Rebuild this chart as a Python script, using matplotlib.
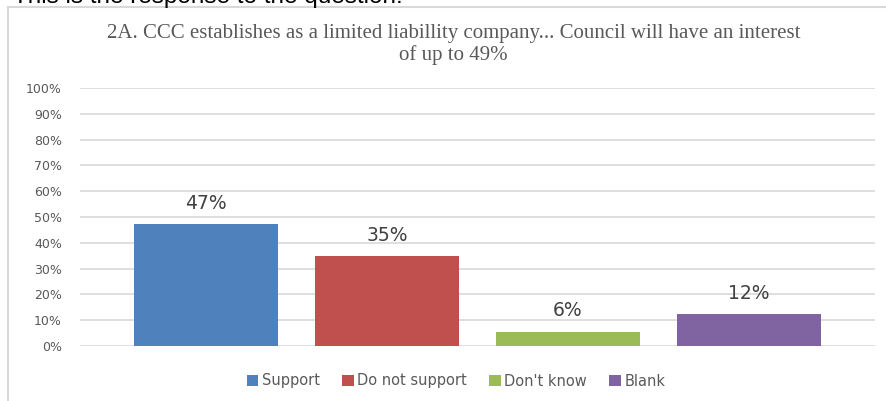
import matplotlib
matplotlib.use('Agg')
import matplotlib.pyplot as plt
from matplotlib.patches import Rectangle, Patch

categories = ['Support', 'Do not support', "Don't know", 'Blank']
shares = [0.472, 0.349, 0.056, 0.124]
colours = ['#4F81BD', '#C0504D', '#9BBB59', '#8064A2']
y_ticks = [0.0, 0.1, 0.2, 0.3, 0.4, 0.5, 0.6, 0.7, 0.8, 0.9, 1.0]
title = ('2A. CCC establishes as a limited liabillity company... Council will have an interest\n'
         'of up to 49%')
heading = 'This is the response to the question:'

W, H = 886, 401
grey = '#595959'

fig = plt.figure(figsize=(W / 100, H / 100), dpi=100)
ax = fig.add_axes([80 / W, (H - 346) / H, 795 / W, 258 / H])

xs = list(range(len(categories)))
bars = ax.bar(xs, shares, width=0.796, color=colours, zorder=2)
for b, v in zip(bars, shares):
    ax.annotate('{:.0%}'.format(v), (b.get_x() + b.get_width() / 2, v),
                xytext=(0, 8), textcoords='offset points',
                ha='center', va='bottom', fontsize=13.5, color='#404040')

ax.set_xlim(-0.696, 3.696)
ax.set_ylim(0, 1)
ax.set_yticks(y_ticks)
ax.set_yticklabels(['{:.0%}'.format(t) for t in y_ticks])
ax.set_xticks([])
ax.tick_params(axis='y', length=0, pad=13, labelsize=9, labelcolor=grey)
ax.yaxis.grid(True, color='#d9d9d9', linewidth=1.2, zorder=0)
ax.set_axisbelow(True)
for s in ax.spines.values():
    s.set_visible(False)

# chart frame (runs off the right and bottom edges)
fig.patches.append(Rectangle((8 / W, -0.1), 1.2, (H - 7) / H + 0.1, fill=False,
                             edgecolor='#d9d9d9', linewidth=1.5,
                             transform=fig.transFigure, zorder=0))

fig.text(453.5 / W, 1 - 44.5 / H, title, ha='center', va='center',
         fontsize=15, family='Liberation Serif', color=grey, linespacing=1.1)

# heading above the chart, mostly cut off by the top edge
fig.text(13 / W, 1 - 3.5 / H, heading, ha='left', va='baseline',
         fontsize=17.5, family='Liberation Sans', color='black')

handles = [Patch(facecolor=c, label=l) for c, l in zip(colours, categories)]
fig.legend(handles=handles, loc='center', bbox_to_anchor=(456 / W, 1 - 381 / H),
           ncol=4, frameon=False, fontsize=10.5, labelcolor=grey,
           handlelength=0.8, handleheight=0.8, handletextpad=0.25,
           columnspacing=1.5)

fig.savefig('out.png', dpi=100)
